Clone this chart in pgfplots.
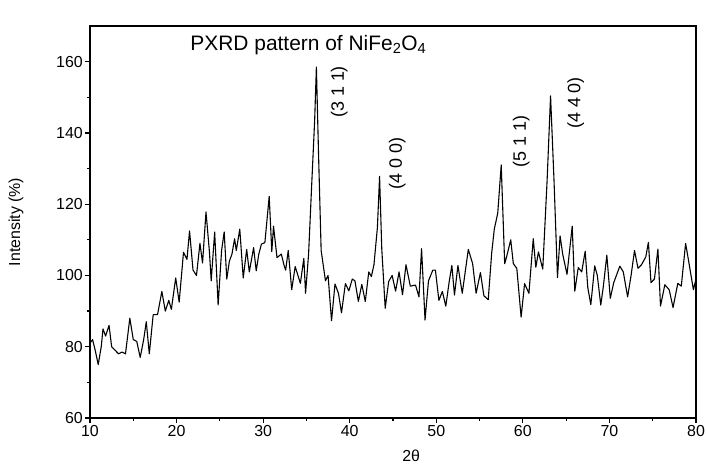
\documentclass[border=0pt]{standalone}
\usepackage{fontspec}
\setmainfont{Liberation Sans}
\usepackage{pgfplots}
\pgfplotsset{compat=1.18}
\begin{document}
\begin{tikzpicture}
\begin{axis}[
  scale only axis, width=606bp, height=392bp,
  xmin=10, xmax=80, ymin=60, ymax=170,
  xtick={10,20,...,80}, ytick={60,80,...,160},
  minor xtick={15,25,...,75}, minor ytick={70,90,...,150},
  tick pos=left, tick align=outside,
  major tick length=5bp, minor tick length=3bp,
  axis line style={line width=1.6bp},
  every tick/.style={line width=1.2bp, black},
  /pgf/number format/assume math mode=true,
  xticklabel style={font=\fontsize{16}{18}\selectfont, inner sep=2bp},
  yticklabel style={font=\fontsize{16}{18}\selectfont, inner sep=2bp},
  ylabel={Intensity (\%)}, xlabel={2θ},
  ylabel style={at={(axis description cs:-0.122,0.5)}, anchor=center, font=\fontsize{16}{18}\selectfont},
  xlabel style={at={(axis description cs:0.53,-0.097)}, anchor=center, font=\fontsize{16}{18}\selectfont},
  clip=false,
]
\addplot[black, line width=1.1bp, line join=round] coordinates {
(10.0,81) (10.3,82) (10.6,79) (10.95,75) (11.3,80) (11.5,85) (11.8,83) (12.2,86) (12.5,80) (12.9,79)
(13.3,78) (13.7,78.5) (14.1,78) (14.4,84) (14.6,88) (15.0,82) (15.4,81.5) (15.8,77) (16.2,82) (16.5,87)
(16.85,78) (17.3,89) (17.8,89) (18.3,95.5) (18.7,90) (19.1,93) (19.4,90.5) (19.9,99.3) (20.3,92.5) (20.8,106.5)
(21.2,104.5) (21.5,112.5) (21.9,101.5) (22.3,100) (22.7,109) (23.0,103.5) (23.4,117.8) (23.8,106.5) (24.0,98.5) (24.4,112.2)
(24.8,91.7) (25.2,107) (25.5,112.2) (25.8,99) (26.1,104) (26.4,106) (26.7,110.3) (26.9,107) (27.3,113) (27.7,99.3)
(28.1,107.3) (28.4,101) (28.9,107.8) (29.2,101.3) (29.5,106) (29.8,108.8) (30.2,109.2) (30.7,122.2) (31.0,106.7) (31.2,113.8)
(31.6,105) (32.1,106) (32.4,103) (32.6,101.5) (32.9,107) (33.3,96) (33.7,102.5) (34.3,97.8) (34.7,104.8) (34.9,95)
(35.25,106) (35.6,125) (35.95,143.5) (36.15,158.5) (36.4,134) (36.7,107) (37.2,98.5) (37.5,100) (37.9,87.3) (38.3,97.6)
(38.7,95) (39.05,89.5) (39.5,97.7) (39.9,95.7) (40.3,99) (40.6,98.5) (41.0,92.7) (41.4,97.5) (41.8,92.7) (42.2,101)
(42.5,99.7) (42.8,103) (43.2,113.5) (43.45,127.8) (43.7,107.6) (44.1,90.8) (44.5,98.3) (44.9,100) (45.3,95.6) (45.7,101)
(46.1,94.6) (46.5,103) (47.0,97) (47.6,97.3) (48.0,94) (48.3,107.5) (48.7,87.5) (49.1,98.5) (49.6,101.5) (49.9,101.5)
(50.3,93) (50.7,95.5) (51.1,91.4) (51.5,98.4) (51.8,102.8) (52.1,94.5) (52.5,102.8) (53.0,95) (53.7,107.3) (54.2,103.3)
(54.6,95) (55.1,100.8) (55.5,94.3) (56.0,93.2) (56.4,106.3) (56.7,113) (57.1,117.5) (57.5,131) (57.9,103.3) (58.1,105)
(58.6,110) (58.9,103.3) (59.3,102) (59.8,88.3) (60.2,97.7) (60.7,95) (61.2,110.3) (61.5,102.3) (61.8,106.6) (62.3,101.8)
(62.8,126.6) (63.2,150.4) (63.6,126.6) (64.0,99.4) (64.3,111.1) (64.6,106) (65.1,100.3) (65.7,113.8) (66.0,95.6) (66.4,102.2)
(66.8,101) (67.2,106.8) (67.5,96.6) (67.85,91.8) (68.3,102.7) (68.6,100) (69.0,91.7) (69.3,97) (69.7,105.7) (70.1,93.6)
(70.5,98) (71.2,102.6) (71.6,101) (72.1,94) (72.5,100) (72.9,107) (73.3,102) (73.7,103) (74.2,105.2) (74.5,109.3)
(74.8,98) (75.2,99) (75.6,107.4) (75.9,91.4) (76.4,97.4) (76.9,96) (77.35,91) (77.9,97.8) (78.3,97) (78.8,109)
(79.2,103.3) (79.7,96) (80.0,99)
};
\node[anchor=west, font=\fontsize{21}{23}\selectfont] at (axis cs:21.2,164.6) {PXRD pattern of NiFe\textsubscript{2}O\textsubscript{4}};
\node[rotate=90, font=\fontsize{18}{20}\selectfont] at (axis cs:38.8,151.5) {(3 1 1)};
\node[rotate=90, font=\fontsize{18}{20}\selectfont] at (axis cs:45.5,131.4) {(4 0 0)};
\node[rotate=90, font=\fontsize{18}{20}\selectfont] at (axis cs:59.8,137.5) {(5 1 1)};
\node[rotate=90, font=\fontsize{18}{20}\selectfont] at (axis cs:66.1,148.4) {(4 4 0)};
\coordinate (SW) at (rel axis cs:0,0);
\coordinate (NE) at (rel axis cs:1,1);
\end{axis}
\pgfresetboundingbox
\path ([shift={(-90bp,-48bp)}]SW) rectangle ([shift={(10bp,26bp)}]NE);
\end{tikzpicture}
\end{document}
